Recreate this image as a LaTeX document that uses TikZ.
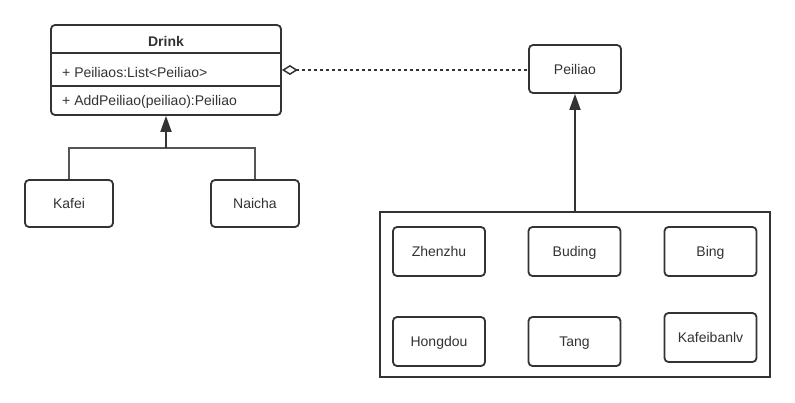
\documentclass[tikz,border=0pt]{standalone}
\usepackage{fontspec}
\setmainfont{Liberation Sans}
\usetikzlibrary{shapes, arrows.meta, positioning}
\usepackage{xcolor}
\definecolor{ink}{HTML}{333333}
\definecolor{wire}{HTML}{555555}

\begin{document}
\begin{tikzpicture}[x=1pt, y=-1pt,
        every node/.style={text=ink, font=\fontsize{14}{16}\selectfont},
        box/.style={draw=ink, line width=1.8pt, rounded corners=4pt, fill=white, minimum width=92pt, minimum height=48pt, text height=13pt, text depth=3pt},
        classbox/.style={box, minimum width=230pt, minimum height=90pt},
        member/.style={anchor=west, inner sep=0pt},
        branch/.style={draw=wire, line width=1.3pt},
        extends/.style={draw=ink, line width=1.8pt, -{Triangle[length=16pt, width=11pt]}},
        holds/.style={draw=ink, line width=1.6pt, dash pattern=on 3pt off 3pt, {Diamond[open, length=16pt, width=10pt, line width=1.5pt]}-}
    ]

        \useasboundingbox (0,0) rectangle (795,402);

        % Drink class
        \node[classbox] (drink) at (166,70) {};
        \node[font=\fontsize{14}{16}\selectfont\bfseries] (drinkname) at (166,41) {Drink};
        \node[member] (drinkattr) at (62,72) {+ Peiliaos:List<Peiliao>};
        \node[member] (drinkop) at (62,102) {+ AddPeiliao(peiliao):Peiliao};
        \draw[draw=ink, line width=1.8pt] ([yshift=-29pt]drink.north west) -- ([yshift=-29pt]drink.north east);
        \draw[draw=ink, line width=1.8pt] ([yshift=-62pt]drink.north west) -- ([yshift=-62pt]drink.north east);

        \node[box, minimum width=88pt, minimum height=47pt] (kafei) at (69,203.5) {Kafei};
        \node[box, minimum width=88pt, minimum height=47pt] (naicha) at (255,203.5) {Naicha};

        \coordinate (joint) at (166,148);
        \draw[branch] (kafei.north) |- (joint) -| (naicha.north);
        \draw[extends] (joint) -- (drink.south);

        % Peiliao side
        \node[box] (peiliao) at (575,69) {Peiliao};
        \draw[holds] (drink.east) -- (drink.east -| peiliao.west);

        \node[draw=ink, line width=1.8pt, minimum width=390pt, minimum height=165pt] (toppings) at (575,294.5) {};

        \node[box, minimum height=49pt] (zhenzhu) at (439,251.5) {Zhenzhu};
        \node[box, minimum height=49pt] (buding) at (574.5,251.5) {Buding};
        \node[box, minimum height=49pt] (bing) at (710.5,251.5) {Bing};
        \node[box, minimum height=49pt] (hongdou) at (439,341.5) {Hongdou};
        \node[box, minimum height=49pt] (tang) at (574.5,341.5) {Tang};
        \node[box, minimum height=49pt] (kafeibanlv) at (710.5,337.5) {Kafeibanlv};

        \draw[extends] (toppings.north) -- (peiliao.south);

    \end{tikzpicture}
\end{document}
